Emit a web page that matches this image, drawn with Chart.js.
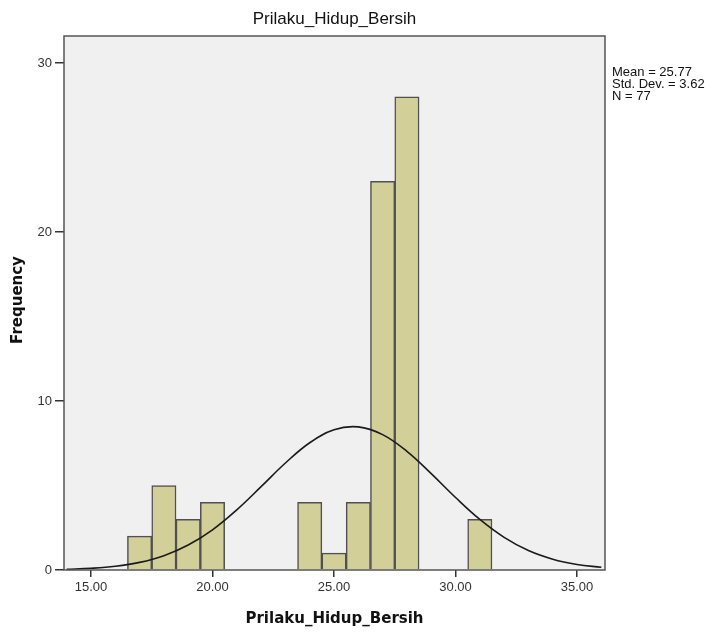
<!DOCTYPE html>
<html>
<head>
<meta charset="utf-8">
<script src="https://cdn.jsdelivr.net/npm/chart.js@4.4.0/dist/chart.umd.min.js"></script>
<style>
  html, body { margin: 0; padding: 0; background: #ffffff; }
  #wrap { width: 716px; height: 633px; position: relative; }
</style>
</head>
<body>
<div id="wrap"><canvas id="histograma" width="716" height="633"></canvas></div>
<script>
var nilai = [17, 18, 19, 20, 24, 25, 26, 27, 28, 31];
var frekuensi = [2, 5, 3, 4, 4, 1, 4, 23, 28, 3];

// Curva normal (a cada 1 unidade)
var kurvaX = [14, 15, 16, 17, 18, 19, 20, 21, 22, 23, 24, 25, 26, 27, 28, 29, 30, 31, 32, 33, 34, 35, 36];
var kurvaY = [0.04, 0.10, 0.22, 0.45, 0.85, 1.48, 2.38, 3.56, 4.93, 6.33, 7.53, 8.30, 8.47, 8.01, 7.02, 5.70, 4.29, 2.99, 1.93, 1.15, 0.64, 0.33, 0.16];

var ticksX = [15, 20, 25, 30, 35];
var ticksY = [0, 10, 20, 30];

var judul = 'Prilaku_Hidup_Bersih';
var judulY = 'Frequency';
var statistik = ['Mean = 25.77', 'Std. Dev. = 3.62', 'N = 77'];

var barras = nilai.map(function (v, i) { return { x: v, y: frekuensi[i] }; });
var curva = kurvaX.map(function (v, i) { return { x: v, y: kurvaY[i] }; });

// Fundo cinza e moldura da área do gráfico, textos
var moldura = {
    id: 'moldura',
    beforeDraw: function (chart) {
        var a = chart.chartArea, c = chart.ctx;
        c.save();
        c.fillStyle = '#f0f0f0';
        c.fillRect(a.left, a.top, a.right - a.left, a.bottom - a.top);
        c.restore();
    },
    afterDraw: function (chart) {
        var a = chart.chartArea, c = chart.ctx;
        c.save();
        c.strokeStyle = '#555555';
        c.lineWidth = 1.5;
        c.strokeRect(a.left, a.top, a.right - a.left, a.bottom - a.top);

        // titulo
        c.fillStyle = '#111111';
        c.textAlign = 'center';
        c.textBaseline = 'middle';
        c.font = '17px "Liberation Sans", Arial, sans-serif';
        c.fillText(judul, (a.left + a.right) / 2, 19);

        // titulo eixo x
        c.font = 'bold 15px "DejaVu Sans", Verdana, sans-serif';
        c.fillText(judul, (a.left + a.right) / 2, 619);

        // titulo eixo y
        c.save();
        c.translate(18, 300);
        c.rotate(-Math.PI / 2);
        c.fillText(judulY, 0, 0);
        c.restore();

        // estatisticas
        c.font = '13px "Liberation Sans", Arial, sans-serif';
        c.textAlign = 'left';
        for (var i = 0; i < statistik.length; i++) {
            c.fillText(statistik[i], 612, 72 + i * 12);
        }
        c.restore();
    }
};

var ctx = document.getElementById('histograma').getContext('2d');

var meuHistograma = new Chart(ctx, {
    data: {
        datasets: [{
            type: 'line',
            data: curva,
            borderColor: '#1a1a1a',
            borderWidth: 1.6,
            pointRadius: 0,
            tension: 0.4,
            fill: false,
            order: 0
        }, {
            type: 'bar',
            data: barras,
            backgroundColor: '#d3cf98',
            borderColor: '#505050',
            borderWidth: 1.5,
            barPercentage: 1.0,
            categoryPercentage: 1.0,
            order: 1
        }]
    },
    options: {
        responsive: false,
        animation: false,
        layout: { padding: { left: 0, top: 36, right: 111, bottom: 0 } },
        plugins: {
            legend: { display: false },
            tooltip: { enabled: false },
            title: { display: false }
        },
        scales: {
            x: {
                type: 'linear',
                min: 13.89,
                max: 36.15,
                offset: false,
                afterFit: function (s) { s.height = 63; },
                afterBuildTicks: function (s) {
                    s.ticks = ticksX.map(function (v) { return { value: v }; });
                },
                ticks: {
                    color: '#333333',
                    font: { size: 13, family: '"Liberation Sans", Arial, sans-serif' },
                    padding: 3,
                    maxRotation: 0,
                    autoSkip: false,
                    callback: function (v) { return v.toFixed(2); }
                },
                grid: {
                    offset: false,
                    drawOnChartArea: false,
                    drawTicks: true,
                    tickLength: 7,
                    color: '#333333',
                    lineWidth: 1.5
                },
                border: { display: false }
            },
            y: {
                type: 'linear',
                min: 0,
                max: 31.6,
                afterFit: function (s) { s.width = 64; },
                afterBuildTicks: function (s) {
                    s.ticks = ticksY.map(function (v) { return { value: v }; });
                },
                ticks: {
                    color: '#333333',
                    font: { size: 13, family: '"Liberation Sans", Arial, sans-serif' },
                    padding: 3,
                    autoSkip: false
                },
                grid: {
                    drawOnChartArea: false,
                    drawTicks: true,
                    tickLength: 9,
                    color: '#333333',
                    lineWidth: 1.5
                },
                border: { display: false }
            }
        }
    },
    plugins: [moldura]
});
</script>
</body>
</html>
